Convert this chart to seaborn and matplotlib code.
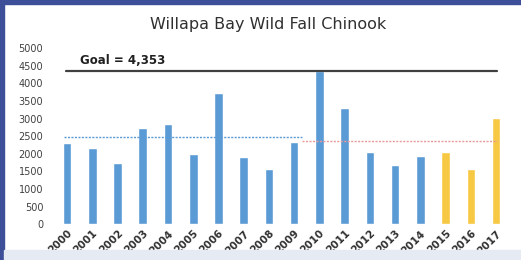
import matplotlib
matplotlib.use("Agg")
import matplotlib.pyplot as plt
import seaborn as sns
import pandas as pd
from matplotlib.patches import Rectangle

years = [str(y) for y in range(2000, 2018)]
escapement = [2300, 2160, 1730, 2740, 2850, 2000, 3720, 1900, 1560, 2330,
              4350, 3300, 2050, 1680, 1930, 2050, 1560, 3010]
period = ["obs"] * 15 + ["recent"] * 3
goal = 4353
goal_label = "Goal = 4,353"
avg_early = 2470
avg_late = 2370
yticks = list(range(0, 5001, 500))

sns.set_theme(style="white")
plt.rcParams['font.family'] = ['DejaVu Sans']

df = pd.DataFrame({"year": years, "value": escapement, "period": period})

fig = plt.figure(figsize=(5.21, 2.60), dpi=100)
fig.patch.set_facecolor("white")
ax = fig.add_axes([0.1044, 0.138, 0.872, 0.677])
sns.barplot(data=df, x="year", y="value", hue="period",
            palette={"obs": "#5b9bd5", "recent": "#f7c843"},
            width=0.34, dodge=False, legend=False, ax=ax, saturation=1)

ax.set_xlim(-0.5, 17.5)
ax.set_ylim(0, 5000)
ax.set_yticks(yticks)
ax.set_yticklabels([str(v) for v in yticks], fontsize=7, color="#404040")
ax.set_xticks(range(len(years)))
ax.set_xticklabels(years, rotation=45, fontsize=7.5, color="#303030",
                   fontweight="bold", ha="right", rotation_mode="anchor")
ax.tick_params(axis="y", length=0, pad=8)
ax.tick_params(axis="x", length=0, pad=3)
ax.set_xlabel("")
ax.set_ylabel("")
for s in ax.spines.values():
    s.set_visible(False)

ax.plot([-0.05, 17.05], [goal, goal], color="#404040", lw=1.6, zorder=3)
ax.text(0.5, goal + 120, goal_label, fontsize=8.5, fontweight="bold",
        color="#202020", ha="left", va="bottom")
ax.plot([-0.1, 9.3], [avg_early, avg_early], color="#5b9bd5", lw=1.0,
        ls=(0, (1.5, 1.0)), zorder=4)
ax.plot([9.3, 17.05], [avg_late, avg_late], color="#e89a9a", lw=1.0,
        ls=(0, (1.5, 1.0)), zorder=4)

fig.text(0.515, 0.905, "Willapa Bay Wild Fall Chinook", fontsize=11.5,
         color="#303030", ha="center", va="center")

# frame decorations
fig.patches.append(Rectangle((0, 0.985), 1, 0.015, transform=fig.transFigure,
                             color="#3d4f98", zorder=0))
fig.patches.append(Rectangle((0, 0), 0.008, 1, transform=fig.transFigure,
                             color="#3d4f98", zorder=0))
fig.patches.append(Rectangle((0.008, 0), 0.992, 0.04, transform=fig.transFigure,
                             color="#e6eaf2", zorder=0))

fig.savefig("out.png", dpi=100)
